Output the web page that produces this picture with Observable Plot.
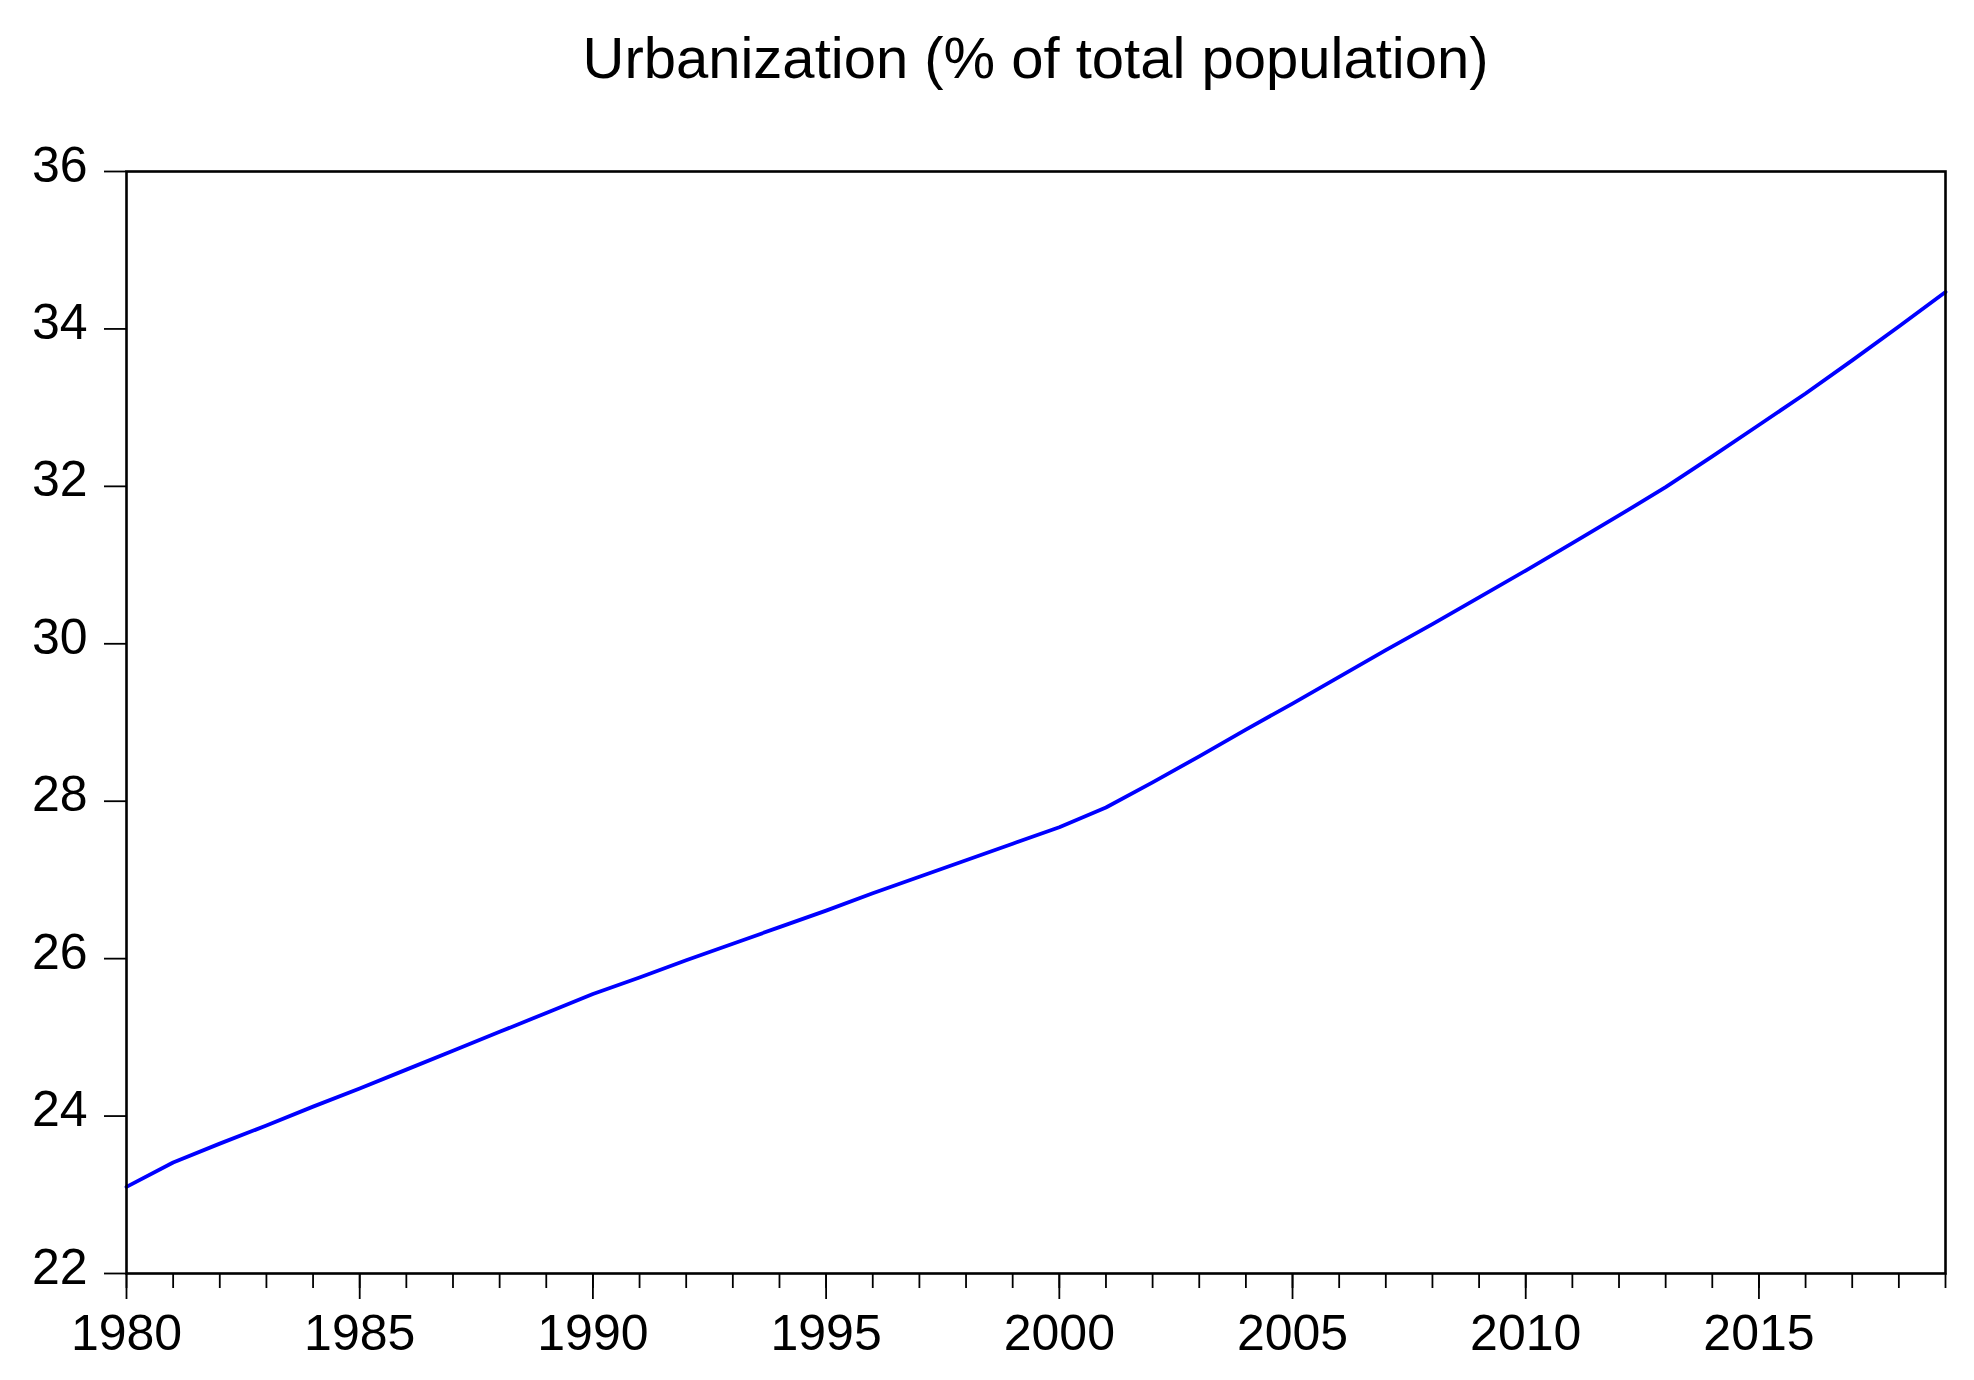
<!DOCTYPE html>
<html><head><meta charset="utf-8">
<script src="https://cdn.jsdelivr.net/npm/d3@7"></script>
<script src="https://cdn.jsdelivr.net/npm/@observablehq/plot@0.6"></script>
<style>
body{margin:0;background:#fff;}
#title{height:130px;box-sizing:border-box;padding-top:29px;font:58px/58px "Liberation Sans",Arial,sans-serif;text-align:center;width:1819px;margin-left:126px;color:#000;white-space:nowrap}
#chart svg{display:block}
</style></head><body>
<div id="title">Urbanization (% of total population)</div>
<div id="chart"></div>
<script>
const years = [1980,1981,1982,1983,1984,1985,1986,1987,1988,1989,
               1990,1991,1992,1993,1994,1995,1996,1997,1998,1999,
               2000,2001,2002,2003,2004,2005,2006,2007,2008,2009,
               2010,2011,2012,2013,2014,2015,2016,2017,2018,2019];
const urbanization = [23.10,23.41,23.65,23.88,24.12,24.35,24.59,24.83,25.07,25.31,
                      25.55,25.76,25.98,26.19,26.40,26.61,26.83,27.04,27.25,27.46,
                      27.67,27.92,28.24,28.57,28.91,29.24,29.58,29.92,30.25,30.59,
                      30.93,31.28,31.63,31.99,32.38,32.78,33.18,33.60,34.03,34.47];
const yTicks = [22,24,26,28,30,32,34,36];
const xLabelYears = [1980,1985,1990,1995,2000,2005,2010,2015];

const data = years.map((y, i) => ({year: y, value: urbanization[i]}));

const chart = Plot.plot({
  width: 1974,
  height: 1250,
  marginTop: 41,
  marginBottom: 107,
  marginLeft: 126,
  marginRight: 29,
  style: {fontFamily: '"Liberation Sans", Arial, sans-serif', fontSize: "50px", color: "#000", background: "#fff"},
  x: {domain: [1980, 2019], label: null},
  y: {domain: [22, 36], label: null},
  marks: [
    Plot.axisX(years, {tickSize: 15, strokeWidth: 1.8, tickFormat: () => "", label: null}),
    Plot.axisX(xLabelYears, {tickSize: 26, tickPadding: 15, strokeWidth: 1.8, tickFormat: d => String(d), fontSize: 50, label: null}),
    Plot.axisY(yTicks, {tickSize: 22, strokeWidth: 1.8, tickFormat: () => "", label: null}),
    Plot.axisY(yTicks, {tickSize: 0, tickPadding: 39, tickFormat: d => String(d), fontSize: 50, dy: -6, label: null}),
    Plot.line(data, {x: "year", y: "value", stroke: "#0000ff", strokeWidth: 3.8}),
    Plot.frame({stroke: "#000", strokeWidth: 2.6})
  ]
});
document.getElementById("chart").appendChild(chart);
</script>
</body></html>
